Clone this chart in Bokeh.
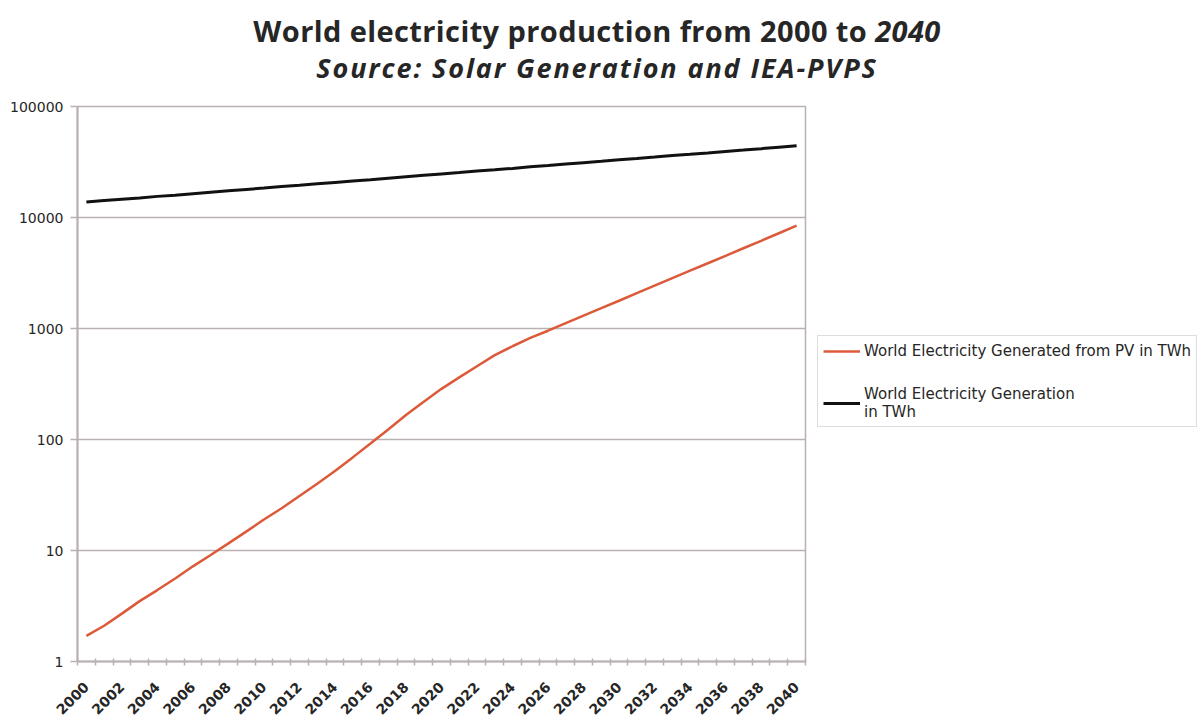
from bokeh.plotting import figure
from bokeh.models import (FixedTicker, PrintfTickFormatter, Legend, LegendItem,
                          Range1d, Div)
from bokeh.layouts import column, row
from bokeh.embed import file_html
from bokeh.resources import INLINE

# Yearly series, TWh
years = list(range(2000, 2041))
pv_twh = [1.7, 2.1, 2.7, 3.5, 4.4, 5.6, 7.2, 9.1, 11.6, 14.8,
          19, 24, 31, 40, 52, 69, 92, 123, 166, 219,
          286, 363, 457, 575, 692, 822, 955, 1117, 1306, 1528,
          1778, 2080, 2432, 2844, 3319, 3873, 4519, 5284, 6166, 7211,
          8433]
world_twh = [13800, 14200, 14600, 15000, 15500, 15900, 16400, 16900, 17400, 17900,
             18400, 19000, 19500, 20100, 20700, 21300, 21900, 22600, 23300, 24000,
             24700, 25400, 26200, 26900, 27700, 28600, 29400, 30300, 31200, 32100,
             33100, 34000, 35000, 36100, 37100, 38200, 39400, 40500, 41700, 43000,
             44300]

y_ticks = [1, 10, 100, 1000, 10000, 100000]
x_label_years = list(range(2000, 2041, 2))

title_main = "World electricity production from 2000 to"
title_year = "2040"
subtitle = "Source: Solar Generation and IEA-PVPS"
pv_label = "World Electricity Generated from PV in TWh"
world_label = "World Electricity Generation\nin TWh"

GRID = "#b9b1b1"
TEXT = "#262626"
PV_COLOR = "#dc5a3a"
WORLD_COLOR = "#111111"
AXIS_FONT = "DejaVu Sans"

base_css = (f"font-family:'Open Sans';font-weight:bold;color:{TEXT};text-align:center;"
            f"white-space:nowrap;box-sizing:border-box;width:1204px;padding-right:10px;")
heading = Div(
    text=(f'<div style="padding-top:12px;">'
          f'<div style="{base_css}font-size:29px;line-height:38px;letter-spacing:0.4px;">'
          f'{title_main} <i>{title_year}</i></div>'
          f'<div style="{base_css}font-size:27px;line-height:35px;letter-spacing:1.9px;">'
          f'<i>{subtitle}</i></div></div>'),
    width=1204, height=90, margin=0)

# chart panel
p = figure(width=807, height=634, y_axis_type="log",
           x_range=Range1d(years[0] - 0.5, years[-1] + 0.5),
           y_range=Range1d(y_ticks[0], y_ticks[-1]),
           output_backend="svg", toolbar_location=None,
           min_border_left=77, min_border_right=2,
           min_border_top=16, min_border_bottom=63,
           background_fill_color="white", border_fill_color="white",
           margin=0)

p.outline_line_color = GRID
p.outline_line_width = 1.5

# log axis with plain integer labels
p.yaxis.ticker = FixedTicker(ticks=y_ticks, minor_ticks=[])
p.yaxis.formatter = PrintfTickFormatter(format="%d")
p.yaxis.axis_line_color = GRID
p.yaxis.axis_line_width = 2
p.yaxis.major_tick_line_color = GRID
p.yaxis.major_tick_line_width = 1.5
p.yaxis.major_tick_in = 0
p.yaxis.major_tick_out = 7
p.yaxis.major_label_standoff = 7
p.yaxis.major_label_text_font = AXIS_FONT
p.yaxis.major_label_text_font_size = "14px"
p.yaxis.major_label_text_color = TEXT

# year axis: labels at category centres, marks at category boundaries
p.xaxis.ticker = FixedTicker(ticks=x_label_years,
                             minor_ticks=[y - 0.5 for y in years] + [years[-1] + 0.5])
p.xaxis.axis_line_color = GRID
p.xaxis.axis_line_width = 2
p.xaxis.major_tick_line_color = None
p.xaxis.minor_tick_line_color = GRID
p.xaxis.minor_tick_line_width = 1.5
p.xaxis.minor_tick_in = 3
p.xaxis.minor_tick_out = 4
p.xaxis.major_label_orientation = 0.785398
p.xaxis.major_label_standoff = 17
p.xaxis.major_label_text_font = AXIS_FONT
p.xaxis.major_label_text_font_size = "14px"
p.xaxis.major_label_text_font_style = "bold"
p.xaxis.major_label_text_color = TEXT

p.xgrid.grid_line_color = None
p.ygrid.ticker = FixedTicker(ticks=y_ticks)
p.ygrid.grid_line_color = GRID
p.ygrid.grid_line_width = 1.5

p.line(years, pv_twh, line_color=PV_COLOR, line_width=2.5)
p.line(years, world_twh, line_color=WORLD_COLOR, line_width=3)

# key panel beside the chart (its frame is aligned with the chart's frame)
key = figure(width=397, height=634, output_backend="svg", toolbar_location=None,
             x_axis_location=None, y_axis_location=None,
             x_range=Range1d(0, 1), y_range=Range1d(0, 1),
             min_border=0, outline_line_color=None,
             background_fill_color="white", border_fill_color="white", margin=0)
key.grid.grid_line_color = None
# single-point lines: nothing is drawn in the key panel, they only carry the styles
k_pv = key.line(x=[years[0]], y=[pv_twh[0]], line_color=PV_COLOR, line_width=2.5)
k_world = key.line(x=[years[0]], y=[world_twh[0]], line_color=WORLD_COLOR, line_width=3)

legend = Legend(items=[LegendItem(label=pv_label, renderers=[k_pv]),
                       LegendItem(label=world_label, renderers=[k_world])],
                location=(10, 234))
legend.label_text_font = AXIS_FONT
legend.label_text_font_size = "15px"
legend.label_text_color = TEXT
legend.glyph_width = 37
legend.label_standoff = 4
legend.padding = 5
legend.spacing = 24
legend.margin = 0
legend.border_line_color = "#bdbdbd"
legend.border_line_width = 1.5
legend.background_fill_color = "white"
legend.background_fill_alpha = 1
key.add_layout(legend)

page = column(heading, row(p, key, spacing=0, margin=0), spacing=0, margin=0)
open("out.html", "w").write(file_html(page, INLINE))
